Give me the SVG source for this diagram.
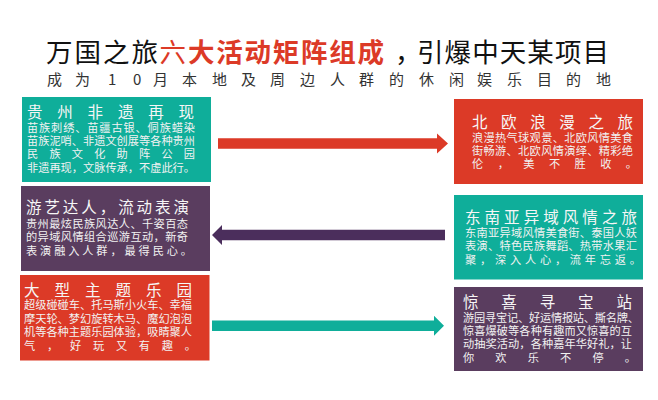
<svg xmlns="http://www.w3.org/2000/svg" width="658" height="400" viewBox="0 0 658 400">
<style>
text{font-family:"Noto Sans CJK SC","Noto Sans",sans-serif;}
.t{font-size:15.5px;fill:#f6f6f6;}
.b{font-size:11.200px;fill:#f2f2f2;}
.h{font-size:26.500px;}
.teal{fill:#0fae9a;}
.red{fill:#dc3a27;}
.pur{fill:#5a3d5f;}
</style>
<rect width="658" height="400" fill="#ffffff"/>
<g id="heading">
<text class="h" x="46" y="62" fill="#111111" textLength="112" lengthAdjust="spacing">万国之旅</text>
<text class="h" x="159.500" y="62" fill="#dc3a27">六</text>
<text class="h" x="188" y="62" font-weight="700" fill="#dc3a27" textLength="196" lengthAdjust="spacing">大活动矩阵组成</text>
<text class="h" x="395" y="62" fill="#111111">，</text>
<text class="h" x="417" y="62" fill="#111111" textLength="192" lengthAdjust="spacing">引爆中天某项目</text>
<text x="47 75 108 133 153 182 212 241 270 300 330 359 389 419 449 477 507 537 566 596" y="85" font-size="15" fill="#333333">成为10月本地及周边人群的休闲娱乐目的地</text>
</g>
<g id="connectors">
<polygon class="red" points="218,138.200 437,138.200 437,133.500 448,143.500 437,153.500 437,148.800 218,148.800"/>
<polygon fill="#4b2e5c" points="445,229.700 222,229.700 222,225 212,235 222,245 222,240.300 445,240.300"/>
<polygon class="teal" points="212,320.400 434,320.400 434,315.700 444,325.700 434,335.700 434,331 212,331"/>
</g>
<g id="node-guizhou">
<rect class="teal" x="22" y="97" width="189" height="85"/>
<text class="t" x="27" y="118" textLength="167">贵州非遗再现</text>
<text class="b" x="27" y="131.500" textLength="168">苗族刺绣、苗疆古银、侗族蜡染</text>
<text class="b" x="27" y="144.500" textLength="168">苗族泥哨、非遗文创展等各种贵州</text>
<text class="b" x="27" y="158" textLength="168">民族文化助阵公园</text>
<text class="b" x="27" y="171.500" textLength="168">非遗再现，文脉传承，不虚此行。</text>
</g>
<g id="node-youyi">
<rect class="pur" x="21" y="186" width="189" height="85"/>
<text class="t" x="26" y="213" textLength="163">游艺达人，流动表演</text>
<text class="b" x="26" y="227.500" textLength="162">贵州最炫民族风达人、千姿百态</text>
<text class="b" x="26" y="241" textLength="162">的异域风情组合巡游互动，新奇</text>
<text class="b" x="26" y="254.500" textLength="166">表演融入人群，最得民心。</text>
</g>
<g id="node-park">
<rect class="red" x="20" y="275" width="189.500" height="85.500"/>
<text class="t" x="24" y="296" textLength="168">大型主题乐园</text>
<text class="b" x="24" y="309" textLength="168">超级碰碰车、托马斯小火车、幸福</text>
<text class="b" x="24" y="322.500" textLength="168">摩天轮、梦幻旋转木马、魔幻泡泡</text>
<text class="b" x="24" y="336" textLength="168">机等各种主题乐园体验，吸睛聚人</text>
<text class="b" x="24" y="349.500" textLength="172">气，好玩又有趣。</text>
</g>
<g id="node-nordic">
<rect class="red" x="454" y="99" width="189" height="85"/>
<text class="t" x="472" y="128" textLength="161">北欧浪漫之旅</text>
<text class="b" x="472" y="141.500" textLength="161">浪漫热气球观景、北欧风情美食</text>
<text class="b" x="472" y="155" textLength="161">街畅游、北欧风情演绎、精彩绝</text>
<text class="b" x="472" y="168" textLength="165">伦，美不胜收。</text>
</g>
<g id="node-sea">
<rect class="teal" x="454" y="195" width="189" height="84.500"/>
<text class="t" x="465" y="223" textLength="172">东南亚异域风情之旅</text>
<text class="b" x="465" y="236.500" textLength="172">东南亚异域风情美食街、泰国人妖</text>
<text class="b" x="465" y="250" textLength="172">表演、特色民族舞蹈、热带水果汇</text>
<text class="b" x="465" y="263.500" textLength="176">聚，深入人心，流年忘返。</text>
</g>
<g id="node-treasure">
<rect class="pur" x="454" y="287" width="189" height="84"/>
<text class="t" x="463" y="308" textLength="169">惊喜寻宝站</text>
<text class="b" x="463" y="321.500" textLength="176">游园寻宝记、好运情报站、撕名牌、</text>
<text class="b" x="463" y="335" textLength="169">惊喜爆破等各种有趣而又惊喜的互</text>
<text class="b" x="463" y="348" textLength="169">动抽奖活动，各种嘉年华好礼，让</text>
<text class="b" x="463" y="361.500" textLength="173">你欢乐不停。</text>
</g>
</svg>
